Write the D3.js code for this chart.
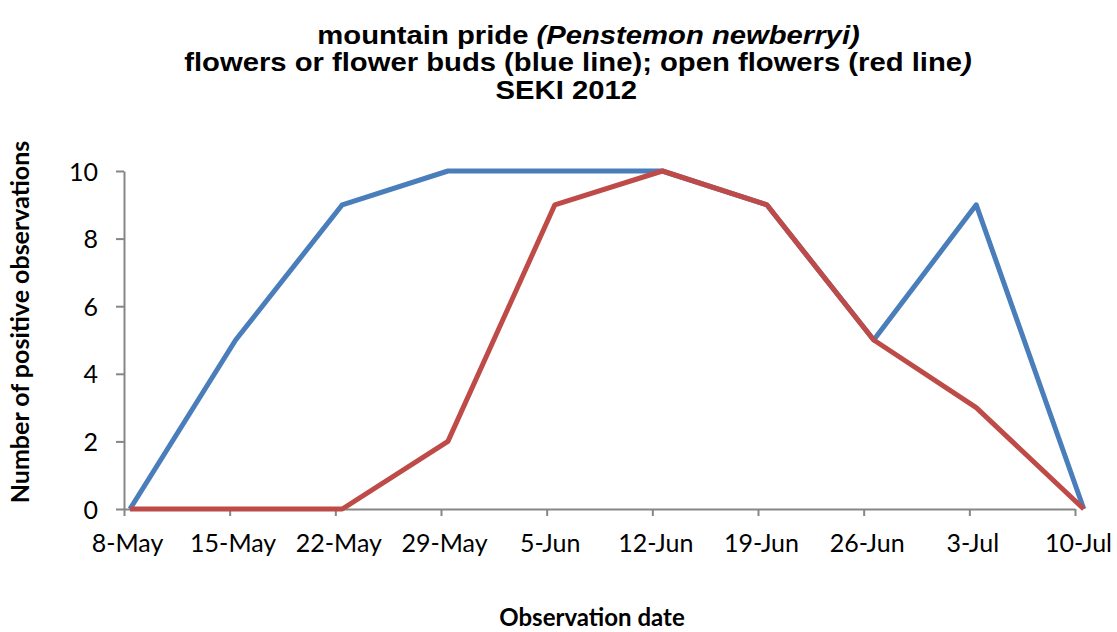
<!DOCTYPE html>
<html><head><meta charset="utf-8">
<script src="https://cdn.jsdelivr.net/npm/d3@7"></script>
<style>body{margin:0;background:#fff}svg{display:block}</style>
</head><body>
<svg id="c" width="1117" height="632"></svg>
<script>
const obsDates = ["2012-05-08T09:30","2012-05-15T09:30","2012-05-22T11:00","2012-05-29T11:00","2012-06-05T13:00","2012-06-12T16:00","2012-06-19T14:00","2012-06-26T16:00","2012-07-03T11:00","2012-07-10T14:00"];
const budsValues = [0,5,9,10,10,10,9,5,9,0];
const openValues = [0,0,0,2,9,10,9,5,3,0];
const tickDates = ["2012-05-08","2012-05-15","2012-05-22","2012-05-29","2012-06-05","2012-06-12","2012-06-19","2012-06-26","2012-07-03","2012-07-10"];
const yTicks = [0,2,4,6,8,10];

const parse = d3.timeParse("%Y-%m-%dT%H:%M");
const parseDay = d3.timeParse("%Y-%m-%d");
const fmt = d3.timeFormat("%-d-%b");
const svg = d3.select("#c");
const L=124, R=1075, T=171, B=509;
const x = d3.scaleTime().domain([parseDay(tickDates[0]), parseDay(tickDates[tickDates.length-1])]).range([L,R]);
const y = d3.scaleLinear().domain([0,10]).range([B,T]);
const axisColor="#868686";
const labelFont="Lato, 'Open Sans', sans-serif";

const xa = svg.append("g").attr("transform",`translate(0,${B})`)
  .call(d3.axisBottom(x).tickValues(tickDates.map(parseDay)).tickFormat(fmt).tickSize(7).tickSizeOuter(0));
const ya = svg.append("g").attr("transform",`translate(${L},0)`)
  .call(d3.axisLeft(y).tickValues(yTicks).tickSize(8).tickSizeOuter(0));
[xa,ya].forEach(a=>{
  a.selectAll("path,line").attr("stroke",axisColor).attr("stroke-width",2);
  a.selectAll("text").attr("fill","#000").style("font-family",labelFont).style("font-size","25px");
});
xa.selectAll("text").attr("y",43).attr("dy",0).attr("dx",3);
ya.selectAll("text").attr("x",-26).attr("dy","0.36em");

const line = d3.line().x(d=>x(parse(d[0]))).y(d=>y(d[1]));
svg.append("path").datum(obsDates.map((d,i)=>[d,budsValues[i]]))
  .attr("d",line).attr("fill","none").attr("stroke","#4A7EBB").attr("stroke-width",5).attr("stroke-linejoin","round");
svg.append("path").datum(obsDates.map((d,i)=>[d,openValues[i]]))
  .attr("d",line).attr("fill","none").attr("stroke","#BE4B48").attr("stroke-width",5).attr("stroke-linejoin","round");

const title = svg.append("text").attr("text-anchor","middle")
  .attr("transform","translate(578,0) scale(1.17,1)")
  .style("font-family","'Liberation Sans', Arial, sans-serif").style("font-weight","bold").style("font-size","25px").attr("fill","#000");
const t1 = title.append("tspan").attr("x",9).attr("y",44);
t1.append("tspan").text("mountain pride ");
t1.append("tspan").style("font-style","italic").text("(Penstemon newberryi)");
const t2 = title.append("tspan").attr("x",0).attr("y",71);
t2.append("tspan").text("flowers or flower buds (blue line); open flowers (red line");
t2.append("tspan").style("font-style","italic").text(")");
title.append("tspan").attr("x",-10).attr("y",99).text("SEKI 2012");

svg.append("text").attr("x",592).attr("y",626).attr("text-anchor","middle")
  .style("font-family",labelFont).style("font-weight","bold").style("font-size","24px").text("Observation date");
svg.append("text").attr("transform","translate(29,322) rotate(-90)").attr("text-anchor","middle")
  .style("font-family",labelFont).style("font-weight","bold").style("font-size","25px").text("Number of positive observations");
</script>
</body></html>
